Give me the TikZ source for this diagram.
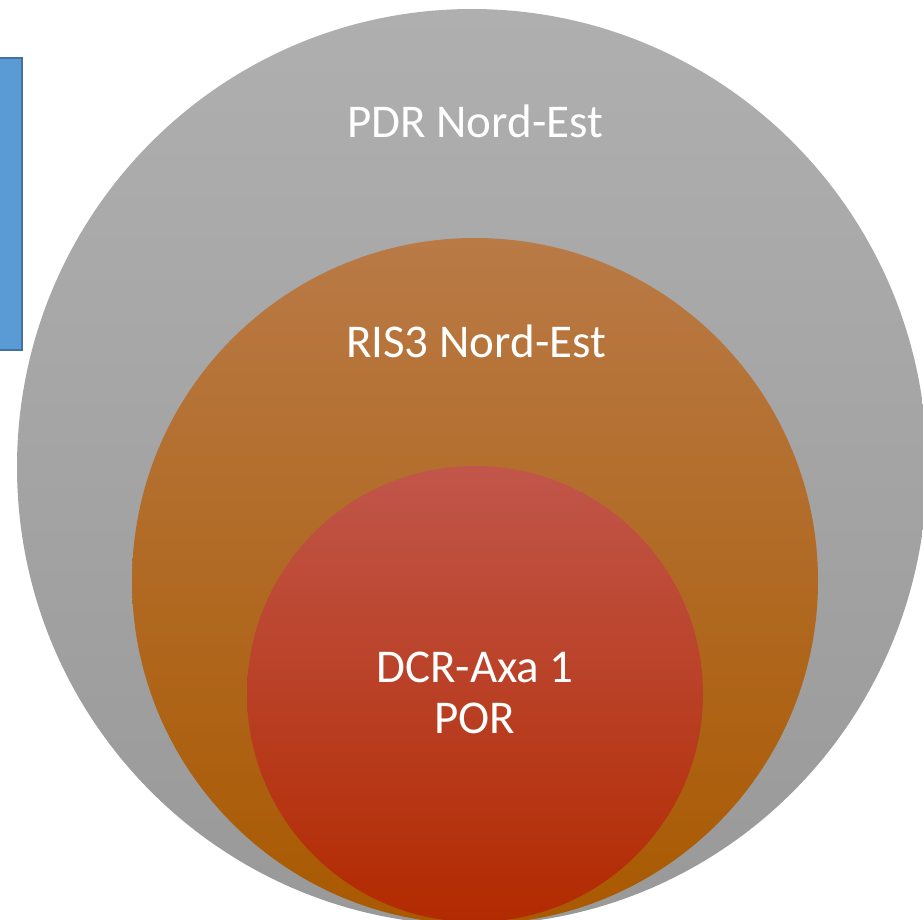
\documentclass[tikz,border=0pt]{standalone}
\usepackage{fontspec}
\setmainfont{Carlito}
\usepackage{tikz}

\definecolor{greytop}{HTML}{AFAFAF}
\definecolor{greymid}{HTML}{A5A5A5}
\definecolor{greybot}{HTML}{999999}
\definecolor{orangetop}{HTML}{B97A46}
\definecolor{orangemid}{HTML}{B56300}
\definecolor{orangebot}{HTML}{A95900}
\definecolor{redtop}{HTML}{C1564A}
\definecolor{redmid}{HTML}{BE3300}
\definecolor{redbot}{HTML}{B22A00}
\definecolor{boxfill}{HTML}{5B9BD5}
\definecolor{boxline}{HTML}{41719C}

\begin{document}
\begin{tikzpicture}[x=1pt,y=-1pt]
 \tikzstyle{setlabel} = [text=white,inner sep=0,anchor=base,font=\fontsize{47}{56}\selectfont]
 \useasboundingbox (0,0) rectangle (923,919);
 \begin{scope}
 \clip (0,0) rectangle (923,919);
 % side box, mostly off the page
 \draw[boxline,line width=1.5,fill=boxfill] (-10,58) rectangle (22,350);
 % nested sets
 \shade[top color=greytop,middle color=greymid,bottom color=greybot] (472,467) ellipse [x radius=455,y radius=458];
 \shade[top color=orangetop,middle color=orangemid,bottom color=orangebot] (475,581) circle [radius=343];
 \shade[top color=redtop,middle color=redmid,bottom color=redbot] (475,694) circle [radius=228];
 \end{scope}
 \node[setlabel] (pdr) at (475,137) {PDR Nord-Est};
 \node[setlabel] (ris) at (476,357) {RIS3 Nord-Est};
 \node[setlabel] (dcr) at (475,682) {DCR-Axa 1};
 \node[setlabel] (por) at (475,733) {POR};
\end{tikzpicture}
\end{document}
